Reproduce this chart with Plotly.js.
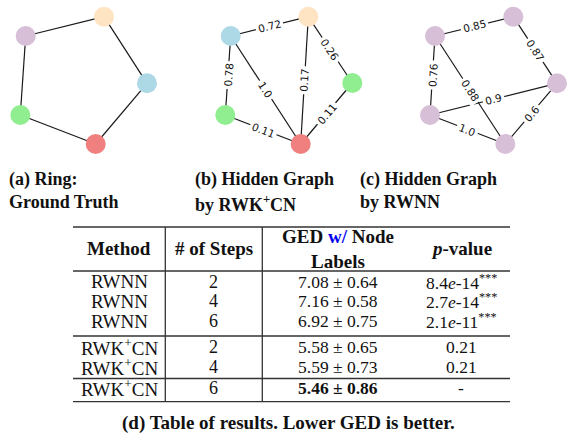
<!DOCTYPE html>
<html><head><meta charset="utf-8">
<script src="https://cdn.plot.ly/plotly-3.0.1.min.js"></script>
<style>html,body{margin:0;padding:0;background:#fff}#chart{width:571px;height:433px}</style>
</head><body><div id="chart"></div>
<script>
// ---------- Graph (a): ring ground truth ----------
const ringX = [25.7, 104, 147, 95.7, 20.3];
const ringY = [36, 16.7, 83.3, 144, 115];
const ringColors = ['#D8BFD8', '#FFE4C4', '#ADD8E6', '#F08080', '#90EE90'];
const ringEdges = [[0, 1], [1, 2], [2, 3], [3, 4], [4, 0]];

// ---------- Graph (b): hidden graph by RWK+CN ----------
const rwkX = [230.7, 308.3, 352.3, 300.7, 225.3];
const rwkY = [36, 16.7, 83, 144, 115];
const rwkColors = ['#ADD8E6', '#FFE4C4', '#90EE90', '#F08080', '#90EE90'];
const rwkEdges = [[0, 1], [0, 4], [0, 3], [1, 3], [1, 2], [2, 3], [4, 3]];
const rwkWeights = ['0.72', '0.78', '1.0', '0.17', '0.26', '0.11', '0.11'];

// ---------- Graph (c): hidden graph by RWNN ----------
const rwnnX = [435, 513.3, 557, 505.3, 430];
const rwnnY = [36, 16.7, 83.3, 144, 115];
const rwnnColors = ['#D8BFD8', '#D8BFD8', '#D8BFD8', '#D8BFD8', '#D8BFD8'];
const rwnnEdges = [[0, 1], [1, 2], [0, 4], [0, 3], [4, 2], [2, 3], [4, 3]];
const rwnnWeights = ['0.85', '0.87', '0.76', '0.88', '0.9', '0.6', '1.0'];

// ---------- Sub-captions ----------
const subCaptions = [
  ['(a) Ring:', 'Ground Truth'],
  ['(b) Hidden Graph', 'by RWK<sup>+</sup>CN'],
  ['(c) Hidden Graph', 'by RWNN']
];

// ---------- Table (d) ----------
const tableHeaders = ['Method', '# of Steps', 'GED <span style="color:#0000ee">w/</span> Node<br>Labels', '<i>p</i>-value'];
const methods = ['RWNN', 'RWNN', 'RWNN', 'RWK<sup>+</sup>CN', 'RWK<sup>+</sup>CN', 'RWK<sup>+</sup>CN'];
const steps = ['2', '4', '6', '2', '4', '6'];
const gedMean = ['7.08', '7.16', '6.92', '5.58', '5.59', '5.46'];
const gedStd = ['0.64', '0.58', '0.75', '0.65', '0.73', '0.86'];
const pValues = ['8.4<i>e</i>-14<sup>***</sup>', '2.7<i>e</i>-14<sup>***</sup>', '2.1<i>e</i>-11<sup>***</sup>', '0.21', '0.21', '-'];
const bestRow = 5;
const tableCaption = '(d) Table of results. Lower GED is better.';

// ---------- Build ----------
const traces = [];
const annotations = [];
const EDGE_COLOR = '#1a1a1a';

function addGraph(xs, ys, colors, edges, weights) {
  const ex = [], ey = [];
  edges.forEach(e => {
    ex.push(xs[e[0]], xs[e[1]], null);
    ey.push(ys[e[0]], ys[e[1]], null);
  });
  traces.push({
    type: 'scatter', mode: 'lines', x: ex, y: ey,
    line: {color: EDGE_COLOR, width: 1.2}, hoverinfo: 'skip', showlegend: false
  });
  traces.push({
    type: 'scatter', mode: 'markers', x: xs, y: ys,
    marker: {size: 20, color: colors, line: {width: 0}},
    hoverinfo: 'skip', showlegend: false
  });
  if (weights) {
    edges.forEach((e, i) => {
      const x0 = xs[e[0]], y0 = ys[e[0]], x1 = xs[e[1]], y1 = ys[e[1]];
      let ang = Math.atan2(y1 - y0, x1 - x0) * 180 / Math.PI;
      if (ang > 90) ang -= 180;
      if (ang <= -90) ang += 180;
      annotations.push({
        x: (x0 + x1) / 2, y: (y0 + y1) / 2, xref: 'x', yref: 'y',
        text: weights[i], showarrow: false, textangle: ang,
        xanchor: 'center', yanchor: 'middle',
        bgcolor: '#ffffff', borderpad: 2,
        font: {family: 'DejaVu Sans', size: 10.5, color: '#111'}
      });
    });
  }
}

addGraph(ringX, ringY, ringColors, ringEdges, null);
addGraph(rwkX, rwkY, rwkColors, rwkEdges, rwkWeights);
addGraph(rwnnX, rwnnY, rwnnColors, rwnnEdges, rwnnWeights);

const SERIF = 'Liberation Serif';
const capX = [7, 193, 358];
subCaptions.forEach((lines, i) => {
  lines.forEach((t, j) => {
    annotations.push({
      x: capX[i], y: j === 0 ? 192 : 190, xref: 'x', yref: 'y',
      text: '<b>' + t + '</b>', showarrow: false,
      xanchor: 'left', yanchor: j === 0 ? 'bottom' : 'top',
      font: {family: SERIF, size: 18, color: '#111'}
    });
  });
});

// table geometry
const colCenters = [119, 213.5, 338, 461];
const colSizes = [19, 18, 17.5, 17.5];
const headerY = 248.5;
const rowY = [281.7, 301.3, 321, 346.7, 366.7, 388.3];
const tableLeft = 73, tableRight = 510, tableTop = 227, tableBottom = 401.7;
const hLines = [tableTop, 271, 336, 378.5, tableBottom];
const vLines = [165.3, 262.3];
const shapes = [];
hLines.forEach(y => shapes.push({type: 'line', xref: 'x', yref: 'y', x0: tableLeft, x1: tableRight, y0: y, y1: y, line: {color: '#333', width: 1.3}}));
vLines.forEach(x => shapes.push({type: 'line', xref: 'x', yref: 'y', x0: x, x1: x, y0: tableTop, y1: tableBottom, line: {color: '#333', width: 1.3}}));

tableHeaders.forEach((h, i) => {
  annotations.push({
    x: colCenters[i], y: headerY, xref: 'x', yref: 'y',
    text: '<b>' + h + '</b>', showarrow: false,
    xanchor: 'center', yanchor: 'middle',
    font: {family: SERIF, size: 19, color: '#111'}
  });
});

methods.forEach((m, r) => {
  const ged = gedMean[r] + ' ± ' + gedStd[r];
  const cells = [m, steps[r], r === bestRow ? '<b>' + ged + '</b>' : ged, pValues[r]];
  cells.forEach((c, i) => {
    annotations.push({
      x: colCenters[i], y: rowY[r], xref: 'x', yref: 'y',
      text: c, showarrow: false,
      xanchor: 'center', yanchor: 'middle',
      font: {family: SERIF, size: colSizes[i], color: '#111'}
    });
  });
});

annotations.push({
  x: 288, y: 423, xref: 'x', yref: 'y',
  text: '<b>' + tableCaption + '</b>', showarrow: false,
  xanchor: 'center', yanchor: 'middle',
  font: {family: SERIF, size: 19, color: '#111'}
});

const layout = {
  width: 571, height: 433,
  margin: {l: 0, r: 0, t: 0, b: 0, pad: 0},
  paper_bgcolor: '#fff', plot_bgcolor: '#fff',
  xaxis: {range: [0, 571], visible: false, fixedrange: true},
  yaxis: {range: [433, 0], visible: false, fixedrange: true},
  showlegend: false,
  shapes: shapes,
  annotations: annotations
};

Plotly.newPlot('chart', traces, layout, {displayModeBar: false, staticPlot: true});
</script>
</body></html>
